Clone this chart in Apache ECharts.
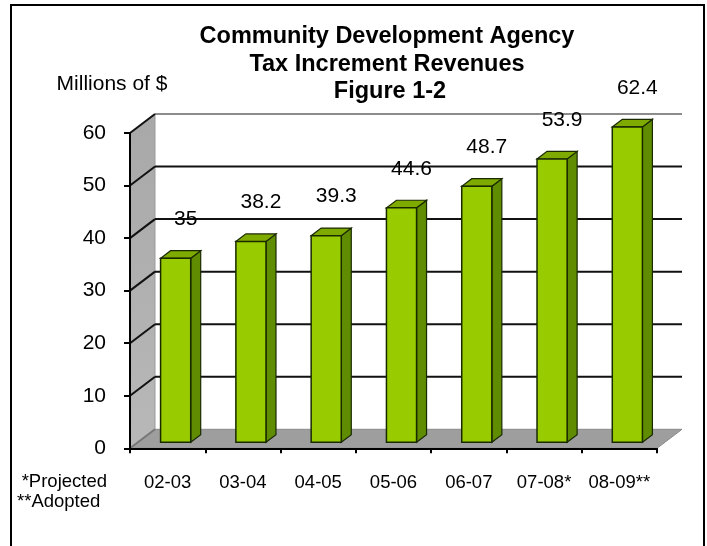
<!DOCTYPE html>
<html>
<head>
<meta charset="utf-8">
<script src="https://cdn.jsdelivr.net/npm/echarts@6/dist/echarts.min.js"></script>
<style>
html,body{margin:0;padding:0;background:#fff;}
#chart{width:707px;height:546px;}
</style>
</head>
<body>
<div id="chart"></div>
<script>
var categories = ['02-03', '03-04', '04-05', '05-06', '06-07', '07-08*', '08-09**'];
var revenues = [35, 38.2, 39.3, 44.6, 48.7, 53.9, 62.4];
var yTicks = [0, 10, 20, 30, 40, 50, 60];
var titleLines = ['Community Development Agency', 'Tax Increment Revenues', 'Figure 1-2'];
var yAxisName = 'Millions of $';
var footnotes = ['*Projected', '**Adopted'];

var Y_MAX = 60;
var DEPTH = { dx: 25, dy: -19 };
var BAR_FRONT = 0.32, BAR_BACK = 0.72, BAR_W = 0.40;
var FONT = 'Liberation Sans, Arial, sans-serif';

var chart = echarts.init(document.getElementById('chart'), null, { renderer: 'canvas' });

function renderBack(params, api) {
  var cs = params.coordSys;
  var x0 = cs.x, x1 = cs.x + cs.width;
  var yBase = api.coord([0, 0])[1];
  var yTop = api.coord([0, Y_MAX])[1];
  var dx = DEPTH.dx, dy = DEPTH.dy;
  var children = [];
  children.push({
    type: 'polygon',
    shape: { points: [[x0, yBase], [x1, yBase], [x1 + dx, yBase + dy], [x0 + dx, yBase + dy]] },
    style: { fill: '#9e9e9e', stroke: '#8a8a8a', lineWidth: 1 }
  });
  children.push({
    type: 'polygon',
    shape: { points: [[x0, yBase], [x0, yTop], [x0 + dx, yTop + dy], [x0 + dx, yBase + dy]] },
    style: {
      fill: new echarts.graphic.LinearGradient(0, 0, 0, 1, [
        { offset: 0, color: '#a8a8a8' }, { offset: 1, color: '#b8b8b8' }
      ]),
      stroke: '#9a9a9a', lineWidth: 1
    }
  });
  yTicks.forEach(function (v) {
    var y = api.coord([0, v])[1];
    if (v > 0) {
      children.push({
        type: 'line',
        shape: { x1: x0 + dx, y1: y + dy, x2: x1 + dx, y2: y + dy },
        style: { stroke: v === Y_MAX ? '#8c8c8c' : '#111', lineWidth: 2 }
      });
    }
    children.push({
      type: 'line',
      shape: { x1: x0, y1: y, x2: x0 + dx, y2: y + dy },
      style: { stroke: v === 0 ? '#777' : '#111', lineWidth: 2 }
    });
  });
  return { type: 'group', children: children };
}

function renderBar(params, api) {
  var idx = api.value(0);
  var val = api.value(1);
  var shown = Math.min(val, Y_MAX);
  var c = api.coord([idx, 0]);
  var top = api.coord([idx, shown]);
  var band = api.size([1, 0])[0];
  var w = band * BAR_W;
  var fx = DEPTH.dx * BAR_FRONT, fy = DEPTH.dy * BAR_FRONT;
  var bx = DEPTH.dx * BAR_BACK, by = DEPTH.dy * BAR_BACK;
  var left = c[0] - w / 2 + fx;
  var right = left + w;
  var yb = c[1] + fy;
  var yt = top[1] + fy;
  var sdx = bx - fx, sdy = by - fy;
  var stroke = '#1a2a00';
  return {
    type: 'group',
    children: [
      { type: 'polygon', shape: { points: [[right, yb], [right, yt], [right + sdx, yt + sdy], [right + sdx, yb + sdy]] },
        style: { fill: '#5f8c00', stroke: stroke, lineWidth: 1.2 } },
      { type: 'polygon', shape: { points: [[left, yt], [right, yt], [right + sdx, yt + sdy], [left + sdx, yt + sdy]] },
        style: { fill: '#7faa00', stroke: stroke, lineWidth: 1.2 } },
      { type: 'rect', shape: { x: left, y: yt, width: w, height: yb - yt },
        style: { fill: '#99cc00', stroke: stroke, lineWidth: 1.5 } },
      { type: 'text', x: c[0] + fx + 10, y: yt - 39,
        style: { text: String(val), fontSize: 21, fontFamily: FONT, fill: '#000', align: 'center', verticalAlign: 'middle' } }
    ]
  };
}

var option = {
  animation: false,
  backgroundColor: '#fff',
  graphic: [
    { type: 'rect', shape: { x: 11, y: 5, width: 693, height: 560 }, style: { fill: 'none', stroke: '#000', lineWidth: 2 }, z: 100 },
    { type: 'text', x: 387, y: 37, style: { text: titleLines[0], fontSize: 23.5, fontWeight: 'bold', fontFamily: FONT, fill: '#000', align: 'center', verticalAlign: 'middle' } },
    { type: 'text', x: 387, y: 64.5, style: { text: titleLines[1], fontSize: 23.5, fontWeight: 'bold', fontFamily: FONT, fill: '#000', align: 'center', verticalAlign: 'middle' } },
    { type: 'text', x: 390, y: 92, style: { text: titleLines[2], fontSize: 23.5, fontWeight: 'bold', fontFamily: FONT, fill: '#000', align: 'center', verticalAlign: 'middle' } },
    { type: 'text', x: 112, y: 84, style: { text: yAxisName, fontSize: 21, fontFamily: FONT, fill: '#000', align: 'center', verticalAlign: 'middle' } },
    { type: 'text', x: 107, y: 482, style: { text: footnotes[0], fontSize: 18.5, fontFamily: FONT, fill: '#000', align: 'right', verticalAlign: 'middle' } },
    { type: 'text', x: 17, y: 502, style: { text: footnotes[1], fontSize: 18.5, fontFamily: FONT, fill: '#000', align: 'left', verticalAlign: 'middle' } }
  ],
  grid: { left: 130, right: 50, top: 133, bottom: 97.7, containLabel: false },
  xAxis: {
    type: 'category',
    data: categories,
    boundaryGap: true,
    axisLine: { show: true, lineStyle: { color: '#000', width: 2 } },
    axisTick: { show: true, length: 5, interval: 0, lineStyle: { color: '#000', width: 2 } },
    axisLabel: { fontSize: 18.5, fontFamily: FONT, color: '#000', margin: 25, interval: 0 },
    splitLine: { show: false },
    z: 10
  },
  yAxis: {
    type: 'value',
    min: 0, max: Y_MAX, interval: 10,
    axisLine: { show: true, lineStyle: { color: '#000', width: 2 } },
    axisTick: { show: true, length: 6, lineStyle: { color: '#000', width: 2 } },
    axisLabel: { fontSize: 21, fontFamily: FONT, color: '#000', margin: 24 },
    splitLine: { show: false },
    z: 10
  },
  series: [
    { type: 'custom', name: 'back', renderItem: renderBack, data: [[0, 0]], clip: false, silent: true, z: 1 },
    { type: 'custom', name: 'Revenues', renderItem: renderBar,
      data: revenues.map(function (v, i) { return [i, v]; }), clip: false, z: 5,
      encode: { x: 0, y: 1 } }
  ]
};
chart.setOption(option);
</script>
</body>
</html>
